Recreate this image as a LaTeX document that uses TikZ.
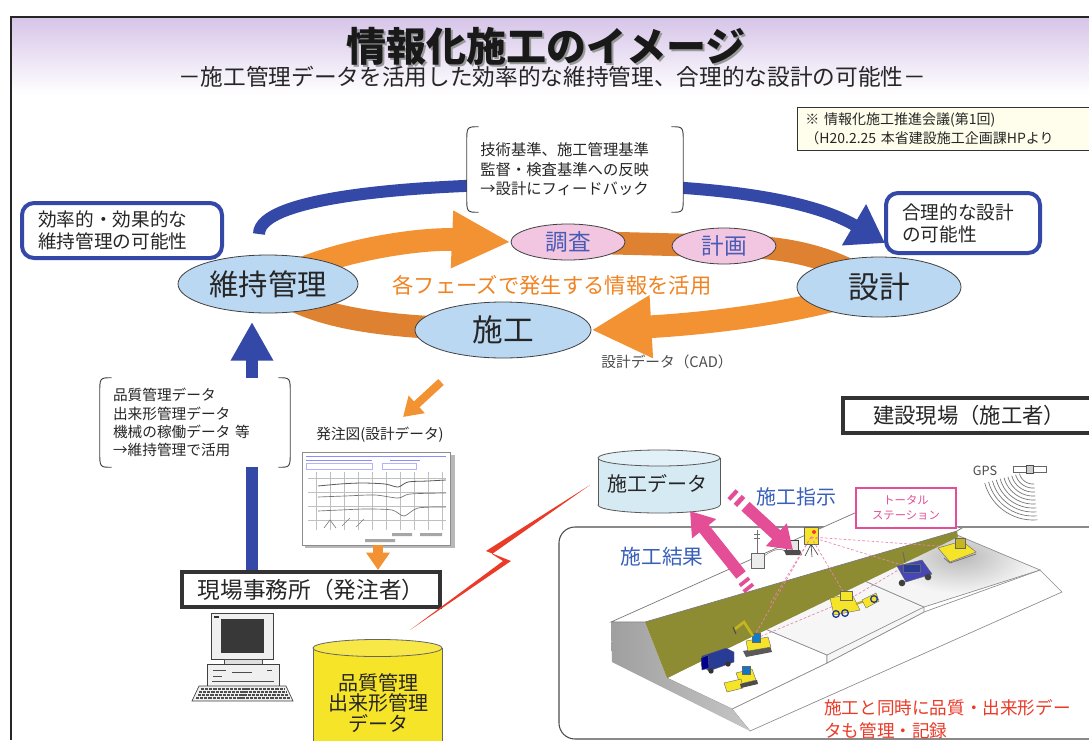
\documentclass[tikz,border=0pt]{standalone}
\usepackage{fontspec}
\setmainfont{Noto Sans CJK JP}
\usetikzlibrary{arrows.meta,shapes.geometric,calc}
\pgfdeclarelayer{back}
\pgfdeclarelayer{bands}
\pgfsetlayers{back,bands,main}

\definecolor{dblue}{RGB}{52,72,168}
\definecolor{lblue}{RGB}{186,216,242}
\definecolor{lpink}{RGB}{242,198,224}
\definecolor{pblue}{RGB}{72,92,182}
\definecolor{orA}{RGB}{243,146,50}
\definecolor{orB}{RGB}{222,130,50}
\definecolor{ortext}{RGB}{240,132,34}
\definecolor{lav}{RGB}{214,196,232}
\definecolor{notebg}{RGB}{255,254,236}
\definecolor{mag}{RGB}{228,78,150}
\definecolor{ylw}{RGB}{246,228,40}
\definecolor{cyl}{RGB}{214,234,244}
\definecolor{olive}{RGB}{142,140,50}
\definecolor{redt}{RGB}{234,58,40}
\definecolor{txtblue}{RGB}{56,96,186}
\definecolor{mblue}{RGB}{40,60,150}

\newcommand{\fsz}[2]{\fontsize{#1}{#2}\selectfont}

\begin{document}
\begin{tikzpicture}[x=0.75pt, y=-0.75pt,
  every node/.style={inner sep=0pt, text=black!85},
  ell/.style={ellipse, draw=black!75, line width=0.6pt, fill=lblue},
  pell/.style={ellipse, draw=black!75, line width=0.6pt, fill=lpink, text=pblue},
  bluebox/.style={draw=dblue, line width=3pt, rounded corners=9pt, fill=white, align=left},
  brackbox/.style={fill=white, align=left},
  brack/.style={draw=black!75, line width=0.7pt},
  heavybox/.style={draw=black!80, line width=3pt, fill=white},
  band/.style={line width=17pt},
  pinkarrow/.style={mag, line width=9pt, -{Triangle[width=22pt,length=17pt]}},
  machine/.style={draw=black!60, line width=0.3pt},
  laser/.style={draw=mag!70, line width=0.5pt, dash pattern=on 2pt off 1.5pt}
]
\useasboundingbox (0,0) rectangle (1089,740);
\begin{pgfonlayer}{back}
  \fill[white] (0,0) rectangle (1089,740);
\end{pgfonlayer}

% ---------- heading ----------
\shade[top color=lav, middle color=lav!85, bottom color=white] (11,17) rectangle (1089,94);
\draw[black!85, line width=0.9pt] (11,740) -- (11,17) -- (1089,17);
\node[text=black!40] (titleshadow) at (548,48) {\fsz{30pt}{30pt}\bfseries 情報化施工のイメージ};
\node[text=black!90] (title) at (546,46) {\fsz{30pt}{30pt}\bfseries 情報化施工のイメージ};
\node (subtitle) at (552,77) {\fsz{17pt}{17pt}－施工管理データを活用した効率的な維持管理、合理的な設計の可能性－};

% ---------- source note ----------
\node[draw=black!80, line width=0.6pt, fill=notebg, anchor=north west,
      minimum width=223.5pt, minimum height=32pt, text width=211.5pt,
      inner xsep=6pt, align=left, font=\fsz{10.5pt}{14.25pt}] (note) at (797,107)
  {※ 情報化施工推進会議(第1回)\\（H20.2.25 本省建設施工企画課HPより};

% ---------- feedback arc (blue) ----------
\coordinate (arcS) at (259,234);
\coordinate (arcE) at (885,243);
\draw[dblue, line width=9pt, -{Triangle[width=34pt,length=27pt]}]
  (arcS) .. controls (259,196) and (420,184) .. (560,184)
         .. controls (700,184) and (805,196) .. (arcE);

\node[brackbox, minimum width=162pt, minimum height=63.75pt, text width=142pt, font=\fsz{11.5pt}{14.6pt}] (tbrack) at (575,169.5)
  {技術基準、施工管理基準\\監督・検査基準への反映\\→設計にフィードバック};
\draw[brack] ([xshift=9pt]tbrack.north west) .. controls (tbrack.north west) and (tbrack.north west) .. ([yshift=-12pt]tbrack.north west)
  -- ([yshift=12pt]tbrack.south west) .. controls (tbrack.south west) and (tbrack.south west) .. ([xshift=9pt]tbrack.south west);
\draw[brack] ([xshift=-9pt]tbrack.north east) .. controls (tbrack.north east) and (tbrack.north east) .. ([yshift=-12pt]tbrack.north east)
  -- ([yshift=12pt]tbrack.south east) .. controls (tbrack.south east) and (tbrack.south east) .. ([xshift=-9pt]tbrack.south east);

\node[bluebox, minimum width=150pt, minimum height=41.25pt, text width=126pt, font=\fsz{14pt}{16.5pt}] (lbox) at (122,230.5)
  {効率的・効果的な\\維持管理の可能性};
\node[bluebox, minimum width=115.5pt, minimum height=45pt, text width=91.5pt, font=\fsz{14pt}{16.5pt}] (rbox) at (963,223)
  {合理的な設計\\の可能性};

% ---------- phase cycle ----------
\node[ell, minimum width=135pt, minimum height=43.5pt] (ijikanri) at (268,284) {\fsz{22pt}{22pt}維持管理};
\node[ell, minimum width=132pt, minimum height=42pt] (sekou) at (503,330) {\fsz{23pt}{23pt}施工};
\node[ell, minimum width=123pt, minimum height=45pt] (sekkei) at (879,287) {\fsz{23pt}{23pt}設計};
\node[pell, minimum width=85.5pt, minimum height=27pt] (chousa) at (568,242) {\fsz{17pt}{17pt}調査};
\node[pell, minimum width=78pt, minimum height=27pt] (keikaku) at (724,246) {\fsz{17pt}{17pt}計画};

\begin{pgfonlayer}{bands}
  \draw[orA, band, -{Triangle[width=40pt,length=44pt]}] (ijikanri.center) .. controls (330,250) and (420,238) .. (chousa.west);
  \draw[orB, band] (chousa.center) -- (keikaku.center);
  \draw[orB, band] (keikaku.center) .. controls (800,246) and (840,262) .. (sekkei.center);
  \draw[orA, band, -{Triangle[width=44pt,length=45pt]}] (sekkei.center) .. controls (800,314) and (700,324) .. (sekou.east);
  \draw[orB, band] (sekou.center) .. controls (380,328) and (310,318) .. (ijikanri.center);
\end{pgfonlayer}

\node[text=ortext] (phase) at (552,285) {\fsz{16pt}{16pt}各フェーズで発生する情報を活用};
\node[text=black!70] (cad) at (667,362) {\fsz{11pt}{11pt}設計データ（CAD）};

% ---------- office side ----------
\node[heavybox, minimum width=193.5pt, minimum height=26.25pt] (office) at (311,589.5)
  {\fsz{17pt}{17pt}現場事務所（発注者）};
\coordinate (upE) at (252,322);
\draw[dblue, line width=9pt, -{Triangle[width=30pt,length=29pt]}] (office.north -| upE) -- (upE);

\node[brackbox, minimum width=142.5pt, minimum height=66.75pt, text width=123pt, font=\fsz{11pt}{13.6pt}] (lbrack) at (195,422.5)
  {品質管理データ\\出来形管理データ\\機械の稼働データ 等\\→維持管理で活用};
\draw[brack] ([xshift=9pt]lbrack.north west) .. controls (lbrack.north west) and (lbrack.north west) .. ([yshift=-12pt]lbrack.north west)
  -- ([yshift=12pt]lbrack.south west) .. controls (lbrack.south west) and (lbrack.south west) .. ([xshift=9pt]lbrack.south west);
\draw[brack] ([xshift=-9pt]lbrack.north east) .. controls (lbrack.north east) and (lbrack.north east) .. ([yshift=-12pt]lbrack.north east)
  -- ([yshift=12pt]lbrack.south east) .. controls (lbrack.south east) and (lbrack.south east) .. ([xshift=-9pt]lbrack.south east);

% order drawing (design data)
\coordinate (oS) at (441,382);
\coordinate (oE) at (403,417);
\draw[orA, line width=6pt, -{Triangle[width=17pt,length=14pt]}] (oS) -- (oE);
\node (plancap) at (380,435) {\fsz{11pt}{11pt}発注図(設計データ)};
\fill[black!28] (305,455) rectangle (455,548);
\node[draw=black!45, line width=0.5pt, fill=white, minimum width=111pt, minimum height=69.75pt] (plan) at (376,498.5) {};
\draw[blue!45, line width=0.6pt] (306,456) -- (446,456) (306,460) -- (372,460) (390,460) -- (420,460);
\draw[blue!30, line width=0.4pt] (306,463) rectangle (372,469) (382,463) rectangle (416,469);
\foreach \gx in {316,330,...,442} \draw[black!25, line width=0.3pt] (\gx,472) -- (\gx,530);
\foreach \gy in {478,492,506,520} \draw[black!25, line width=0.3pt] (308,\gy) -- (446,\gy);
\draw[black!65, line width=0.6pt] plot[smooth] coordinates {(318,486) (340,484) (362,483) (385,484) (398,487) (408,482) (428,481) (446,480)};
\draw[black!55, line width=0.5pt] plot[smooth] coordinates {(318,497) (345,496) (375,495) (398,498) (410,494) (446,493)};
\draw[black!55, line width=0.5pt] plot[smooth] coordinates {(318,511) (340,510) (366,509) (392,510) (404,516) (418,508) (446,507)};
\draw[black!50, line width=0.5pt] (324,528) -- (330,520) -- (336,528) (342,526) -- (350,518) (356,527) -- (364,519);
\fill[black!35] (392,533) rectangle (412,536) (420,533) rectangle (442,536) (365,539) rectangle (395,542);
\draw[orA, line width=7pt, -{Triangle[width=17pt,length=13pt]}] (plan.south -| 378,0) -- (office.north -| 378,0);

% desktop computer
\filldraw[fill=gray!12, draw=black!75, line width=0.5pt] (211,613) rectangle (273,659);
\fill[black!78] (221,619) rectangle (264,653);
\fill[black!80] (214,616) rectangle (219,618);
\filldraw[fill=gray!25, draw=black!70, line width=0.5pt] (224,659) rectangle (262,664);
\filldraw[fill=gray!12, draw=black!75, line width=0.5pt] (207,664) rectangle (279,686);
\draw[black!70, line width=0.7pt] (213,670) -- (226,670) (232,672) -- (252,672) (213,676) -- (222,676) (267,670) -- (272,670) (212,681) -- (274,681);
\filldraw[fill=gray!12, draw=black!75, line width=0.5pt] (199,686) -- (286,686) -- (293,701) -- (192,701) -- cycle;
\foreach \ky/\kl/\kr in {689/201/284, 692/199/286, 695/198/288, 698/196/290}
  \draw[black!70, line width=1.4pt, dash pattern=on 2.4pt off 0.7pt] (\kl,\ky) -- (\kr,\ky);

% quality data store
\fill[ylw] (313,648) rectangle (442,760);
\draw[black!60, line width=0.6pt] (313,648) -- (313,760) (442,648) -- (442,760);
\filldraw[fill=ylw!85!white, draw=black!60, line width=0.6pt] (377.5,648) ellipse [x radius=48.4pt, y radius=6.4pt];
\node[align=center, font=\fsz{15pt}{15.4pt}] (dbtext) at (378,703) {品質管理\\出来形管理\\データ};

% radio link
\fill[redt] (590,485) -- (486,551) -- (511,561) -- (410,630) -- (503,561) -- (492,554) -- cycle;

% ---------- construction site ----------
\node[heavybox, minimum width=189pt, minimum height=26.25pt] (site) at (969,415.5)
  {\fsz{16pt}{16pt}建設現場（施工者）};

\draw[black!70, line width=0.8pt, rounded corners=12pt, fill=white] (559,527) rectangle (1110,739);
% embankment
\filldraw[fill=white, draw=black!45, line width=0.5pt] (732,709) -- (827,663) -- (924,612) -- (1040,570) -- (1062,592) -- (750,731) -- cycle;
\filldraw[fill=white, draw=black!45, line width=0.5pt] (667,678) -- (763,628) -- (827,655) -- (827,663) -- (732,709) -- cycle;
\filldraw[fill=gray!7, draw=black!45, line width=0.5pt] (763,628) -- (858,578) -- (924,607) -- (924,612) -- (827,663) -- (827,655) -- cycle;
\draw[black!45, line width=0.5pt] (827,655) -- (924,607);
\begin{scope}
  \clip (858,578) -- (957,535) -- (1040,570) -- (924,607) -- cycle;
  \fill[gray!8] (850,520) rectangle (1060,620);
  \shade[inner color=gray!55, outer color=gray!8] (960,556) ellipse [x radius=55pt, y radius=28pt];
\end{scope}
\draw[black!45, line width=0.5pt] (858,578) -- (957,535) -- (1040,570) -- (924,607) -- cycle;
\shade[left color=gray!75, right color=gray!45] (611,622) -- (645,622) -- (667,678) -- (732,709) -- (750,731) -- (612,662) -- cycle;
\fill[olive] (645,622) -- (957,531) -- (958,537) -- (667,678) -- cycle;
\filldraw[fill=white, draw=black!55, line width=0.5pt] (611,622) -- (866,508) -- (962,528) -- (957,531) -- (645,622) -- cycle;

% site equipment on the crown
\draw[black!55, line width=0.5pt] (757,553) -- (757,530) (754,534) -- (760,534) (754,538) -- (760,538);
\filldraw[fill=gray!15, draw=black!60, line width=0.4pt] (751,553) rectangle (764,568);
\draw[black!50, line width=0.4pt] (764,556) .. controls (775,548) and (782,548) .. (786,552);
\filldraw[fill=gray!20, draw=black!75, line width=0.4pt] (786,540) rectangle (798,550);
\fill[black!70] (784,550) -- (800,550) -- (802,555) -- (786,555) -- cycle;
\draw[black!70, line width=0.5pt] (811,544) -- (805,556) (811,544) -- (812,557) (811,544) -- (818,555);
\filldraw[fill=ylw, draw=black!60, line width=0.4pt] (804,527) rectangle (818,544);
\fill[red!80] (814,532) circle [radius=1.5pt];

% laser lines from the total station
\draw[laser] (811,537) -- (752,640);
\draw[laser] (811,537) -- (770,604);
\draw[laser] (811,537) -- (848,600);
\draw[laser] (811,537) -- (905,566);
\draw[laser] (811,537) -- (952,547);
\draw[laser] (752,640) -- (848,600) -- (905,566);

% machines
\fill[black!65] (743,651) -- (770,646) -- (772,652) -- (746,657) -- cycle;
\filldraw[fill=ylw, machine] (746,641) -- (768,637) -- (771,647) -- (748,651) -- cycle;
\filldraw[fill=cyan!60!blue, machine] (752,633) rectangle (760,642);
\draw[ylw!80!black, line width=2pt] (753,636) -- (744,622) -- (735,629);
\draw[black!70, line width=0.8pt] (733,627) -- (736,634);
\filldraw[fill=mblue, machine] (702,656) -- (726,648) -- (734,652) -- (734,662) -- (709,671) -- (701,665) -- cycle;
\filldraw[fill=blue!55!black, machine] (701,658) -- (708,655) -- (709,668) -- (702,670) -- cycle;
\fill[black!80] (711,671) circle [radius=2pt] (728,664) circle [radius=2pt];
\filldraw[fill=ylw, machine] (736,673) -- (752,669) -- (756,680) -- (740,684) -- cycle;
\filldraw[fill=cyan!55!blue, machine] (742,666) rectangle (750,674);
\filldraw[fill=ylw, machine] (724,683) -- (741,679) -- (743,688) -- (727,692) -- cycle;
\fill[black!70] (740,684) -- (757,680) -- (758,684) -- (741,688) -- cycle;
\filldraw[fill=ylw, machine] (830,598) -- (852,594) -- (860,610) -- (834,615) -- cycle;
\filldraw[fill=ylw, machine] (840,591) rectangle (852,600);
\draw[ylw!75!black, line width=1.6pt] (856,604) -- (876,597);
\filldraw[fill=ylw, machine] (862,600) -- (876,593) -- (879,601) -- (866,608) -- cycle;
\draw[mblue, line width=1pt] (836,614) circle [radius=2.5pt] (845,613) circle [radius=2.5pt] (874,599) circle [radius=2.5pt];
\filldraw[fill=gray!55!blue, machine] (897,566) -- (922,560) -- (932,574) -- (906,582) -- cycle;
\filldraw[fill=mblue, machine] (903,564) rectangle (920,572);
\fill[black!75] (902,583) circle [radius=2.5pt] (928,577) circle [radius=2.5pt];
\draw[black!60, line width=0.6pt] (905,563) -- (903,552);
\filldraw[fill=ylw, machine] (938,548) -- (962,541) -- (976,552) -- (950,562) -- cycle;
\filldraw[fill=ylw!80!black, machine] (955,538) rectangle (965,548);
\draw[black!60, line width=0.5pt] (944,558) -- (950,563) -- (976,554);

\node[anchor=west, text=redt] (redtxt1) at (824,708) {\fsz{13.2pt}{13.2pt}施工と同時に品質・出来形デー};
\node[anchor=west, text=redt] (redtxt2) at (824,731) {\fsz{13.2pt}{13.2pt}タも管理・記録};

% construction data store
\filldraw[fill=cyl, draw=black!65, line width=0.6pt] (659,505) ellipse [x radius=45.75pt, y radius=6pt];
\fill[cyl] (598,458) rectangle (720,505);
\draw[black!65, line width=0.6pt] (598,458) -- (598,505) (720,458) -- (720,505);
\filldraw[fill=cyl!70!white, draw=black!65, line width=0.6pt] (659,458) ellipse [x radius=45.75pt, y radius=6pt];
\node (sdata) at (657,484) {\fsz{15pt}{15pt}施工データ};

% instruction / result arrows
\node[text=txtblue] (shiji) at (796,497) {\fsz{15pt}{15pt}施工指示};
\node[text=txtblue] (kekka) at (662,557) {\fsz{15.5pt}{15.5pt}施工結果};
\coordinate (pS) at (745.5,506.3);
\coordinate (pE) at (793,550);
\draw[pinkarrow] (pS) -- (pE);
\draw[mag, line width=9pt] (731.5,493.6) -- (734.5,496.4) (737.7,499.3) -- (741.2,502.5);
\coordinate (rS) at (741,575);
\coordinate (rE) at (690,511);
\draw[pinkarrow] (rS) -- (rE);
\draw[mag, line width=9pt] (743.3,580.4) -- (745.6,583.3) (747.2,586.5) -- (749.5,589.4);

% total station label and GPS
\node[draw=mag, line width=1.8pt, fill=white, minimum width=75pt, minimum height=30pt, text=mag, align=center, font=\fsz{8.5pt}{11pt}] (ts) at (906,508)
  {トータル\\ステーション};
\node[text=black!70] (gps) at (985,471) {\fsz{9.5pt}{9.5pt}GPS};
\foreach \r in {14,18,...,50}
  \draw[black!55, line width=0.5pt] plot[domain=85:165, samples=16] ({1033+\r*cos(\x)},{470+\r*sin(\x)});
\filldraw[fill=white, draw=black!60, line width=0.4pt] (1013,466) rectangle (1026,472) (1033,466) rectangle (1046,472);
\filldraw[fill=gray!40, draw=black!70, line width=0.4pt] (1026,465) rectangle (1033,473);
\end{tikzpicture}
\end{document}
